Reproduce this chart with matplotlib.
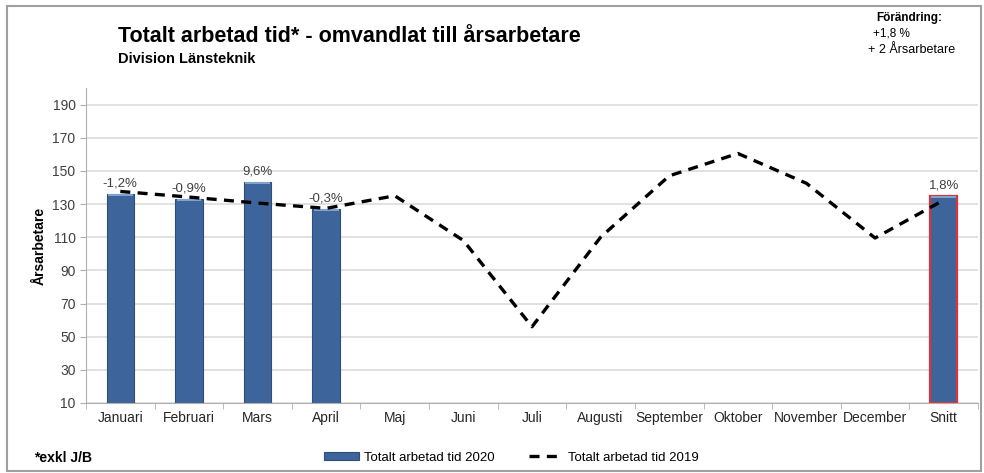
import matplotlib.pyplot as plt
from matplotlib.patches import Rectangle
import numpy as np

plt.rcParams['font.family'] = ['Liberation Sans Narrow', 'Liberation Sans', 'DejaVu Sans']

months = ['Januari', 'Februari', 'Mars', 'April', 'Maj', 'Juni', 'Juli', 'Augusti',
          'September', 'Oktober', 'November', 'December', 'Snitt']
# 2020 bars (only Jan-Apr + Snitt)
bars_2020 = [136, 133, 143.2, 127, None, None, None, None, None, None, None, None, 134.8]
change_lbl = ['-1,2%', '-0,9%', '9,6%', '-0,3%', '', '', '', '', '', '', '', '', '1,8%']
line_2019 = [137.6, 134.2, 130.6, 127.4, 135, 108, 56, 110, 147, 160.5, 142.5, 109.5, 132.4]
yticks = [10, 30, 50, 70, 90, 110, 130, 150, 170, 190]

blue = '#3E659B'
fig = plt.figure(figsize=(9.84, 4.73), dpi=100)
ax = fig.add_axes([0.0874, 0.148, 0.9065, 0.666])

x = np.arange(len(months))
for i, v in enumerate(bars_2020):
    if v is None:
        continue
    ec = '#D9343A' if months[i] == 'Snitt' else '#2E4D78'
    lw = 1.6 if months[i] == 'Snitt' else 0.8
    ax.bar(x[i], v - 10, bottom=10, width=0.4, color=blue, edgecolor=ec, linewidth=lw, zorder=2)
    # light top cap, like the excel 3d look
    ax.bar(x[i], 1.2, bottom=v - 1.2, width=0.36, color='#7FA3D0', linewidth=0, zorder=2.1)
    ax.text(x[i], v + 3, change_lbl[i], ha='center', va='bottom', fontsize=9.5, color='#404040')

ax.plot(x, line_2019, color='black', lw=2.4, ls=(0, (3, 2.2)), zorder=3)

ax.set_xlim(-0.5, len(months) - 0.5)
ax.set_ylim(10, 200)
ax.set_yticks(yticks)
ax.set_xticks(x)
ax.set_xticklabels(months)
ax.set_xticks(np.arange(-0.5, len(months), 1), minor=True)
ax.tick_params(axis='x', which='major', length=0, pad=6, labelsize=10, labelcolor='#262626')
ax.tick_params(axis='x', which='minor', length=4, color='#B0B0B0')
ax.tick_params(axis='y', length=4, color='#B0B0B0', labelsize=10, labelcolor='#404040')
ax.grid(axis='y', color='#D9D9D9', lw=1.1, zorder=0)
ax.set_axisbelow(True)
for s in ['top', 'right']:
    ax.spines[s].set_visible(False)
for s in ['left', 'bottom']:
    ax.spines[s].set_color('#B0B0B0')
ax.set_ylabel('Årsarbetare', fontsize=10, fontweight='bold', labelpad=4)

fig.text(0.12, 0.923, 'Totalt arbetad tid* - omvandlat till årsarbetare', fontsize=15.5,
         fontweight='bold', family=['Liberation Sans', 'DejaVu Sans'], va='center')
fig.text(0.12, 0.875, 'Division Länsteknik', fontsize=10.5, fontweight='bold',
         family=['Liberation Sans', 'DejaVu Sans'], va='center')
fig.text(0.891, 0.963, 'Förändring:', fontsize=8.5, fontweight='bold', va='center')
fig.text(0.887, 0.929, '+1,8 %', fontsize=8.5, va='center')
fig.text(0.882, 0.894, '+ 2 Årsarbetare', fontsize=9, va='center')
fig.text(0.035, 0.032, '*exkl J/B', fontsize=10, fontweight='bold', va='center')

h1 = Rectangle((0, 0), 1, 1, facecolor=blue, edgecolor='#2E4D78', lw=0.8)
h2, = ax.plot([], [], color='black', lw=2.4, ls=(0, (3, 2.2)))
fig.legend([h1, h2], ['Totalt arbetad tid 2020', 'Totalt arbetad tid 2019'],
           loc='center', bbox_to_anchor=(0.52, 0.032), ncol=2, frameon=False,
           fontsize=9.5, handlelength=2.6, handleheight=0.6, handletextpad=0.4,
           columnspacing=2.6)

fig.patches.append(Rectangle((0.007, 0.004), 0.99, 0.983, transform=fig.transFigure,
                             fill=False, edgecolor='#A0A0A0', lw=1.5))

fig.savefig('out.png', dpi=100)
